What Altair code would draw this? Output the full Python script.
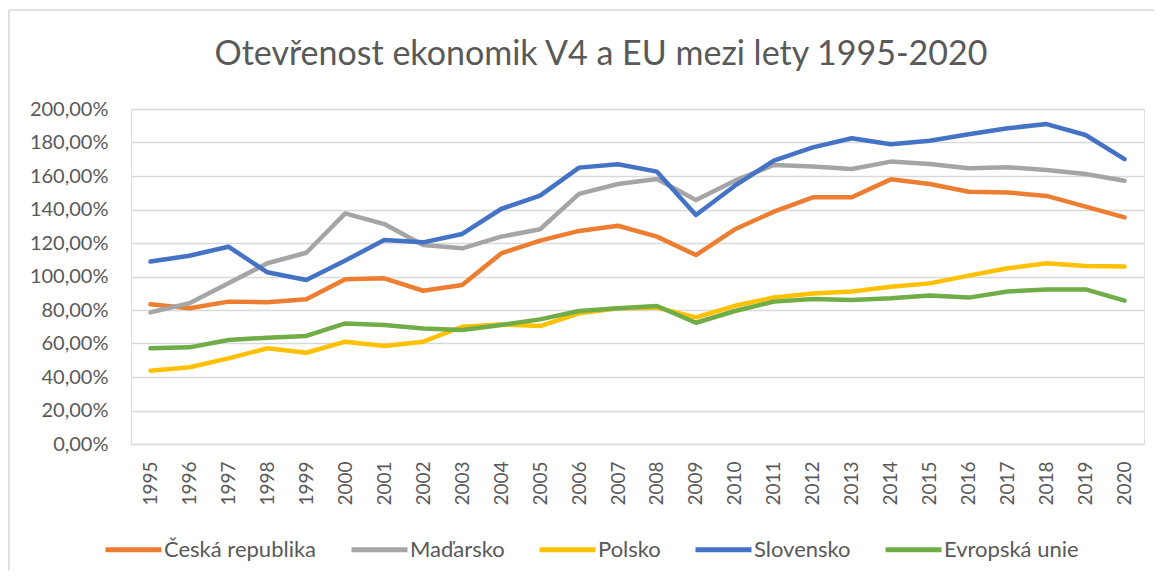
import altair as alt
import pandas as pd

years = [str(y) for y in range(1995, 2021)]

ceska = [83.4, 81.0, 85.0, 84.6, 86.4, 98.3, 98.9, 91.5, 94.9, 113.8, 121.4, 127.2, 130.3,
         123.8, 112.8, 128.2, 138.7, 147.3, 147.3, 158.0, 155.2, 150.6, 150.2, 148.1, 141.7, 135.3]
madarsko = [78.6, 84.0, 95.9, 107.9, 114.2, 137.7, 131.3, 118.8, 116.8, 123.8, 128.2, 149.3, 155.2,
            158.2, 145.7, 157.2, 166.6, 165.6, 164.2, 168.6, 167.2, 164.6, 165.2, 163.6, 161.2, 157.2]
polsko = [43.8, 45.8, 51.1, 57.1, 54.5, 61.1, 58.5, 61.1, 70.0, 71.4, 70.4, 78.0, 81.0,
          81.4, 75.6, 82.5, 87.5, 89.8, 91.0, 93.9, 95.9, 100.5, 104.9, 107.9, 106.3, 105.9]
slovensko = [108.9, 112.4, 117.8, 102.5, 97.9, 109.5, 121.8, 120.4, 125.4, 140.3, 148.3, 165.0, 167.0,
             162.6, 136.7, 154.2, 169.2, 177.1, 182.5, 178.9, 181.1, 184.9, 188.5, 191.0, 184.5, 170.1]
eu = [57.1, 57.7, 62.1, 63.5, 64.5, 72.0, 71.0, 69.0, 68.0, 71.0, 74.4, 79.4, 81.0,
      82.4, 72.4, 79.4, 85.0, 86.6, 86.0, 87.0, 88.6, 87.4, 91.0, 92.3, 92.3, 85.6]

series_names = ["Česká republika", "Maďarsko", "Polsko", "Slovensko", "Evropská unie"]
series_values = [ceska, madarsko, polsko, slovensko, eu]
series_colors = ["#ED7D31", "#A5A5A5", "#FFC000", "#4472C4", "#70AD47"]
y_ticks = [0, 20, 40, 60, 80, 100, 120, 140, 160, 180, 200]
title_text = "Otevřenost ekonomik V4 a EU mezi lety 1995-2020"

rows = []
for name, vals in zip(series_names, series_values):
    for yr, v in zip(years, vals):
        rows.append({"rok": yr, "zeme": name, "hodnota": v})
df = pd.DataFrame(rows)

FONT = "Lato"
TXT = "#595959"
GRID = "#D9D9D9"

lines = alt.Chart(df).mark_line(strokeWidth=4.5, strokeCap="round", strokeJoin="round").encode(
    x=alt.X("rok:O", sort=years, scale=alt.Scale(type="point", padding=0.5),
            axis=alt.Axis(title=None, labelAngle=270, labelFontSize=19, labelFont=FONT,
                          labelColor=TXT, labelPadding=17, ticks=False, domain=False, grid=False)),
    y=alt.Y("hodnota:Q", scale=alt.Scale(domain=[0, 200], nice=False),
            axis=alt.Axis(title=None, values=y_ticks, labelFontSize=20, labelFont=FONT,
                          labelColor=TXT, labelPadding=23, ticks=False, domain=False,
                          grid=True, gridColor=GRID, gridWidth=1.5,
                          labelExpr="replace(format(datum.value, '.2f'), '.', ',') + '%'")),
    color=alt.Color("zeme:N", sort=series_names,
                    scale=alt.Scale(domain=series_names, range=series_colors),
                    legend=alt.Legend(title=None, orient="none", legendX=-28, legendY=410,
                                      direction="horizontal", columns=5,
                                      symbolType="stroke", symbolSize=3136, symbolStrokeWidth=5,
                                      labelFontSize=22, labelFont=FONT, labelColor=TXT,
                                      labelOffset=0, columnPadding=24)),
    order=alt.Order("zeme_order:Q"),
).transform_calculate(
    zeme_order="indexof(" + str(series_names).replace("'", '"') + ", datum.zeme)"
)

single = alt.Data(values=[{"t": title_text}])
left_border = alt.Chart(single).mark_rule(color=GRID, strokeWidth=1.5).encode(
    x=alt.value(-122), y=alt.value(-99), y2=alt.value(470))
top_border = alt.Chart(single).mark_rule(color=GRID, strokeWidth=1.5).encode(
    x=alt.value(-122), x2=alt.value(1030), y=alt.value(-99))
title = alt.Chart(single).mark_text(font=FONT, fontSize=34, color=TXT, align="center",
                                    baseline="alphabetic").encode(
    text="t:N", x=alt.value(470), y=alt.value(-44))

chart = alt.layer(left_border, top_border, title, lines).properties(
    width=1013, height=335,
    autosize=alt.AutoSizeParams(type="none"),
    padding={"left": 123, "top": 101, "right": 10, "bottom": 127},
).configure_view(stroke=None).configure(background="white")

chart.save("out.html", embed_options={"renderer": "svg", "actions": False})
